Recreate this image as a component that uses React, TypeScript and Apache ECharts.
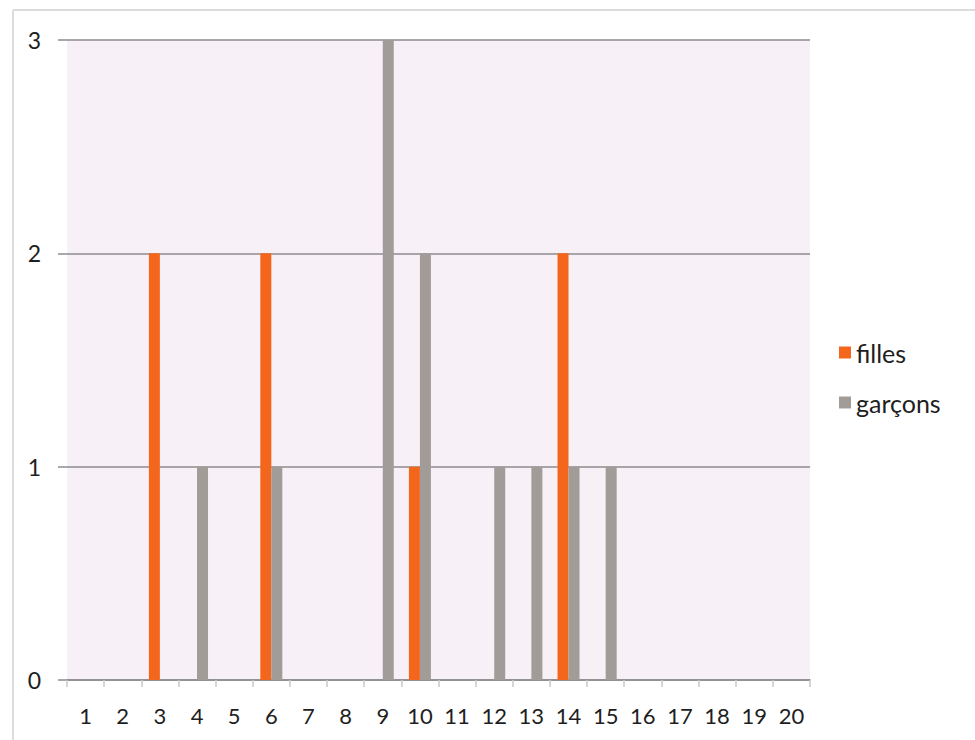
import React, { useEffect, useRef } from "react";
import * as echarts from "echarts";

const categories = ["1","2","3","4","5","6","7","8","9","10","11","12","13","14","15","16","17","18","19","20"];
const filles = [0,0,2,0,0,2,0,0,0,1,0,0,0,2,0,0,0,0,0,0];
const garcons = [0,0,0,1,0,1,0,0,3,2,0,1,1,1,1,0,0,0,0,0];
const seriesNames = ["filles", "garçons"];
const yTicks = [0, 1, 2, 3];

export default function App() {
  const ref = useRef<HTMLDivElement>(null);
  useEffect(() => {
    if (!ref.current) return;
    const chart = echarts.init(ref.current, null, { renderer: "svg" });
    const font = "Lato, 'Open Sans', sans-serif";
    chart.setOption({
      animation: false,
      backgroundColor: "#ffffff",
      grid: {
        left: 67,
        right: 165,
        top: 40,
        bottom: 60,
        show: true,
        backgroundColor: "#F7F0F7",
        borderWidth: 0,
      },
      legend: {
        orient: "vertical",
        left: 834,
        top: 335,
        itemWidth: 12,
        itemHeight: 12,
        itemGap: 25,
        icon: "rect",
        textStyle: { fontFamily: font, fontSize: 25, color: "#1e1e1e", padding: [0, 0, 0, 0] },
        data: seriesNames,
      },
      xAxis: {
        type: "category",
        data: categories,
        boundaryGap: true,
        axisLine: { show: true, lineStyle: { color: "#8c8c8c", width: 1.5 } },
        axisTick: { show: true, length: 7, lineStyle: { color: "#c8c8c8", width: 1.5 } },
        axisLabel: { fontFamily: font, fontSize: 22, color: "#1e1e1e", margin: 24, interval: 0 },
      },
      yAxis: {
        type: "value",
        min: yTicks[0],
        max: yTicks[yTicks.length - 1],
        interval: 1,
        axisLine: { show: false },
        axisTick: { show: true, length: 9, lineStyle: { color: "#8c8c8c", width: 1.5 } },
        splitLine: { show: true, lineStyle: { color: "#8c8c8c", width: 1.5 } },
        axisLabel: { fontFamily: font, fontSize: 23, color: "#1e1e1e", margin: 26 },
      },
      series: [
        {
          name: seriesNames[0],
          type: "bar",
          data: filles,
          barWidth: 11,
          barGap: "0%",
          itemStyle: { color: "#F4661B" },
        },
        {
          name: seriesNames[1],
          type: "bar",
          data: garcons,
          barWidth: 11,
          barGap: "0%",
          itemStyle: { color: "#A29C98" },
        },
      ],
      graphic: [
        { type: "line", shape: { x1: 13, y1: 10, x2: 13, y2: 740 }, style: { stroke: "#dcdcdc", lineWidth: 2 } },
        { type: "line", shape: { x1: 13, y1: 10, x2: 975, y2: 10 }, style: { stroke: "#dcdcdc", lineWidth: 2 } },
      ],
    });
    return () => chart.dispose();
  }, []);
  return <div ref={ref} style={{ position: "absolute", left: 0, top: 0, width: 975, height: 740 }} />;
}
